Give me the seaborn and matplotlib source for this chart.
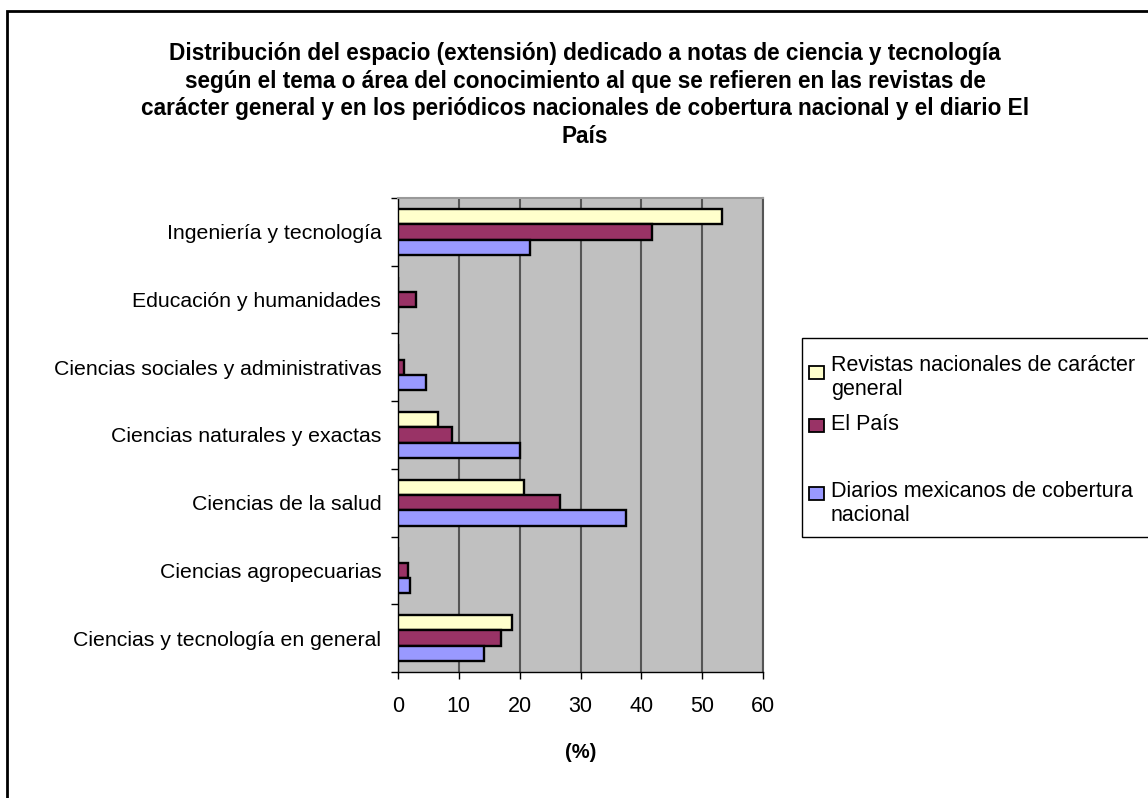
import matplotlib
matplotlib.use("Agg")
import matplotlib.pyplot as plt
import matplotlib.patches as mpatches
import seaborn as sns
import pandas as pd

categories = [
    "Ingeniería y tecnología",
    "Educación y humanidades",
    "Ciencias sociales y administrativas",
    "Ciencias naturales y exactas",
    "Ciencias de la salud",
    "Ciencias agropecuarias",
    "Ciencias y tecnología en general",
]
series_names = [
    "Revistas nacionales de carácter general",
    "El País",
    "Diarios mexicanos de cobertura nacional",
]
legend_lines = [
    ["Revistas nacionales de carácter", "general"],
    ["El País"],
    ["Diarios mexicanos de cobertura", "nacional"],
]
revistas = [53.2, 0.0, 0.0, 6.5, 20.7, 0.0, 18.8]
el_pais = [41.8, 3.0, 1.0, 8.9, 26.6, 1.6, 17.0]
diarios = [21.7, 0.0, 4.6, 20.1, 37.5, 2.0, 14.1]
colors = ["#FFFFCC", "#993366", "#9999FF"]
xticks = [0, 10, 20, 30, 40, 50, 60]

title = ("Distribución del espacio (extensión) dedicado a notas de ciencia y tecnología\n"
         "según el tema o área del conocimiento al que se refieren en las revistas de\n"
         "carácter general y en los periódicos nacionales de cobertura nacional y el diario El\n"
         "País")

rows = []
for name, vals in zip(series_names, [revistas, el_pais, diarios]):
    for c, v in zip(categories, vals):
        rows.append({"cat": c, "serie": name, "val": v})
df = pd.DataFrame(rows)

sns.set_theme(style="white")
plt.rcParams["font.family"] = ["Liberation Sans", "DejaVu Sans"]
plt.rcParams["text.color"] = "black"
plt.rcParams["xtick.color"] = "black"
plt.rcParams["ytick.color"] = "black"
plt.rcParams["axes.labelcolor"] = "black"

W, H = 1148, 798
fig = plt.figure(figsize=(W / 100, H / 100), dpi=100)
ax = fig.add_axes([398 / W, 1 - 672 / H, (763 - 398) / W, (672 - 198) / H])
ax.set_facecolor("#C0C0C0")

sns.barplot(data=df, y="cat", x="val", hue="serie", order=categories,
            hue_order=series_names, palette=colors, orient="h", width=0.68,
            saturation=1, edgecolor="black", linewidth=1.7, ax=ax,
            legend=False, zorder=3)

ax.set_xlim(0, 60)
ax.set_ylim(6.5, -0.5)
ax.set_xticks(xticks)
ax.set_xticklabels([str(t) for t in xticks], fontsize=15.5)
ax.set_yticks(range(len(categories)))
ax.set_yticklabels(categories, fontsize=15.3)
ax.tick_params(axis="y", which="major", length=0, pad=12)
ax.set_yticks([i - 0.5 for i in range(len(categories) + 1)], minor=True)
ax.tick_params(axis="y", which="minor", length=5, width=1, color="black",
               direction="out", left=True)
ax.tick_params(axis="x", which="major", length=5, width=1, color="black",
               direction="out", bottom=True, pad=12)
ax.xaxis.grid(True, color="#555555", linewidth=1.5, zorder=0)
ax.set_axisbelow(True)
ax.set_ylabel("")
ax.set_xlabel("(%)", fontsize=14.5, fontweight="bold")
ax.xaxis.label.set_va("center")
ax.xaxis.set_label_coords(0.5, -(752 - 672) / (672 - 198))

for s in ["left", "bottom"]:
    ax.spines[s].set_color("black")
    ax.spines[s].set_linewidth(1.0)
ax.spines["top"].set_color("#999999")
ax.spines["top"].set_linewidth(1.5)
ax.spines["right"].set_color("#555555")
ax.spines["right"].set_linewidth(1.5)


def fx(px):
    return px / W


def fy(py):
    return 1 - py / H


# Legend (Excel style: marker aligned with the first line of each entry)
fig.patches.append(mpatches.Rectangle((fx(802), fy(537)), fx(400), (537 - 338) / H,
                                      transform=fig.transFigure, facecolor="white",
                                      edgecolor="black", linewidth=1.0, zorder=1))
handle_tops = [366, 419, 487]
baselines = [[371, 395], [430], [497, 521]]
for col, top, lines, bls in zip(colors, handle_tops, legend_lines, baselines):
    fig.patches.append(mpatches.Rectangle((fx(809), fy(top + 13)), fx(15), 13 / H,
                                          transform=fig.transFigure, facecolor=col,
                                          edgecolor="black", linewidth=1.3, zorder=2))
    for line, bl in zip(lines, bls):
        fig.text(fx(831), fy(bl), line, ha="left", va="baseline", fontsize=15.5,
                 zorder=3)

fig.text(585 / W, fy(42), title, ha="center", va="top",
         fontsize=16.3, fontweight="bold", linespacing=1.26)

fig.patches.append(mpatches.Rectangle((7 / W, -0.01), 1.1, 1 - 11 / H + 0.01,
                                      transform=fig.transFigure, fill=False,
                                      edgecolor="black", linewidth=2, zorder=0))

fig.savefig("out.png", dpi=100)
